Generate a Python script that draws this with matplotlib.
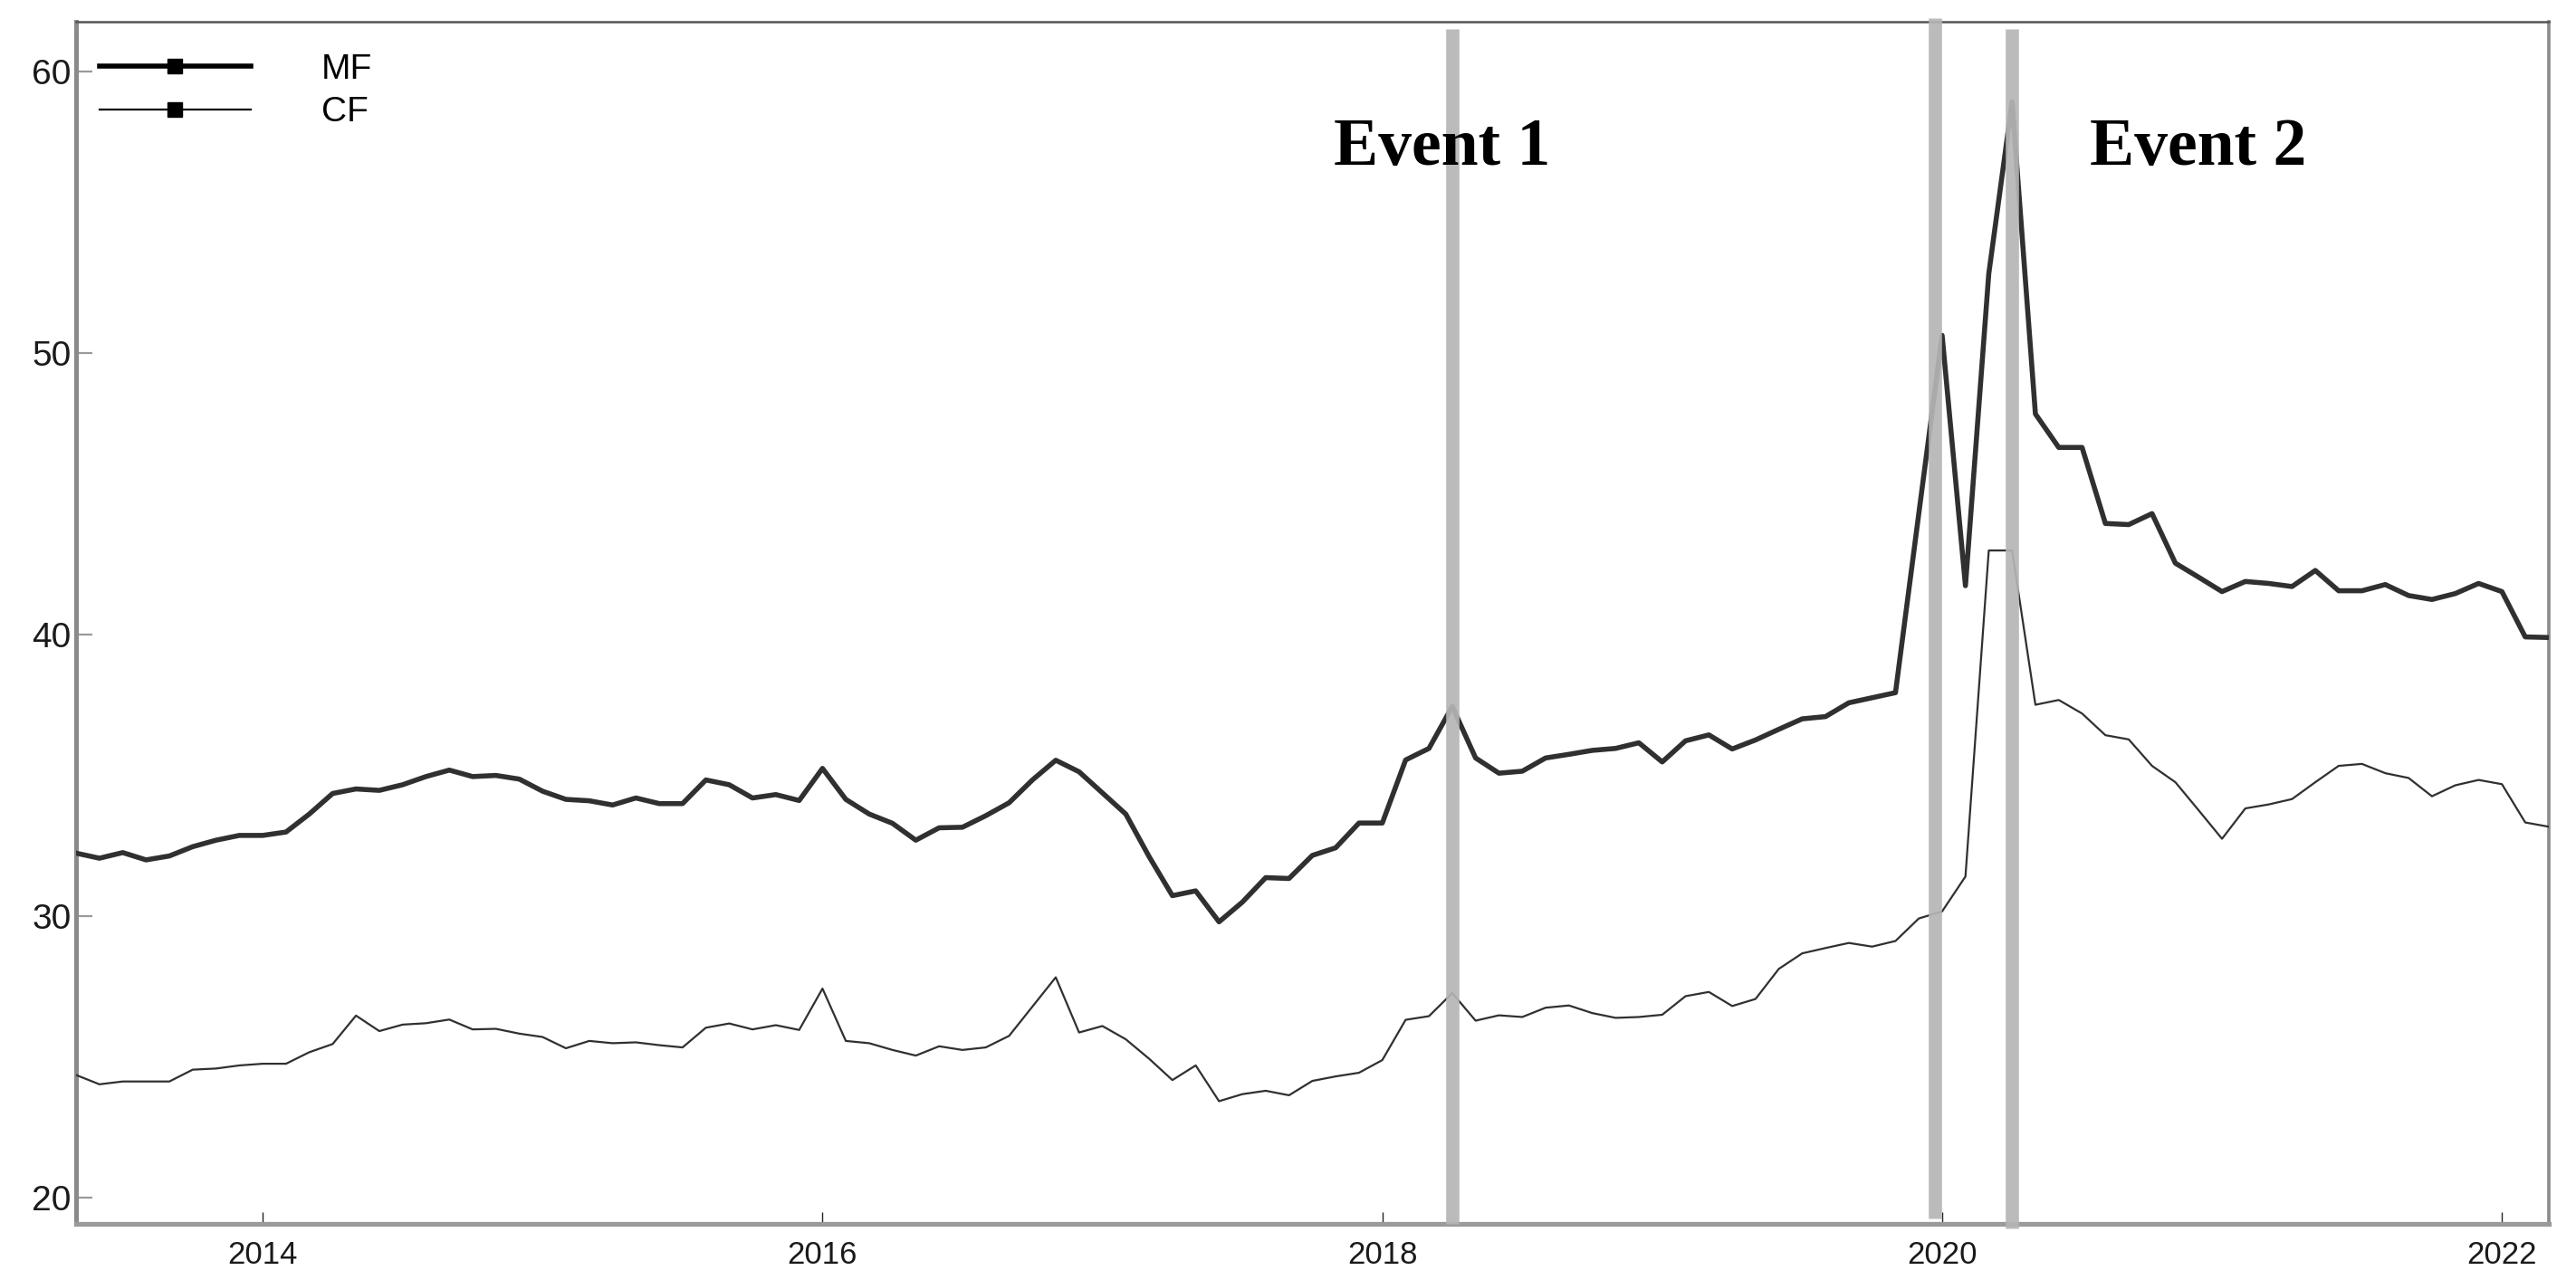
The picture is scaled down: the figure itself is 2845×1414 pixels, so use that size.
import numpy as np
import matplotlib.pyplot as plt
from matplotlib.lines import Line2D

# monthly series, May 2013 .. Mar 2022
start_year = 2013
start_month = 5
mf = [32.24, 32.06, 32.26, 32.00, 32.14, 32.47, 32.70, 32.87, 32.87, 32.99,
      33.63, 34.36, 34.52, 34.47, 34.67, 34.96, 35.19, 34.96, 35.00, 34.87,
      34.44, 34.15, 34.10, 33.95, 34.20, 34.00, 34.00, 34.84, 34.67, 34.20,
      34.32, 34.11, 35.25, 34.15, 33.63, 33.30, 32.70, 33.14, 33.16, 33.57,
      34.03, 34.84, 35.54, 35.13, 34.38, 33.63, 32.12, 30.73, 30.90, 29.80,
      30.50, 31.37, 31.34, 32.16, 32.43, 33.31, 33.31, 35.55, 35.96, 37.45,
      35.62, 35.08, 35.15, 35.62, 35.75, 35.89, 35.96, 36.16, 35.48, 36.23,
      36.44, 35.94, 36.26, 36.64, 37.01, 37.09, 37.58, 37.76, 37.94, 44.30,
      50.63, 41.74, 52.82, 58.92, 47.84, 46.65, 46.65, 43.95, 43.91, 44.30,
      42.54, 42.04, 41.53, 41.89, 41.82, 41.71, 42.28, 41.56, 41.56, 41.78,
      41.39, 41.25, 41.46, 41.82, 41.53, 39.92, 39.90]
cf = [24.36, 24.03, 24.13, 24.13, 24.13, 24.55, 24.59, 24.70, 24.76, 24.76,
      25.17, 25.46, 26.47, 25.92, 26.15, 26.20, 26.33, 25.98, 26.00, 25.83,
      25.71, 25.31, 25.57, 25.49, 25.52, 25.42, 25.34, 26.04, 26.19, 25.98,
      26.13, 25.96, 27.43, 25.57, 25.49, 25.25, 25.05, 25.38, 25.25, 25.34,
      25.75, 26.79, 27.83, 25.87, 26.10, 25.63, 24.94, 24.18, 24.70, 23.43,
      23.68, 23.80, 23.64, 24.15, 24.31, 24.44, 24.89, 26.32, 26.45, 27.27,
      26.29, 26.48, 26.42, 26.75, 26.83, 26.56, 26.39, 26.42, 26.50, 27.16,
      27.31, 26.81, 27.06, 28.13, 28.68, 28.87, 29.05, 28.92, 29.12, 29.92,
      30.17, 31.41, 42.99, 42.99, 37.51, 37.68, 37.20, 36.43, 36.28, 35.34,
      34.76, 33.76, 32.75, 33.83, 33.97, 34.16, 34.76, 35.34, 35.41, 35.08,
      34.91, 34.26, 34.65, 34.84, 34.69, 33.33, 33.18]
event_dates = [2018.25, 2019.975, 2020.25]
event_labels = ['Event 1', 'Event 2']
event_label_x = [2017.825, 2020.527]
year_ticks = [2014, 2016, 2018, 2020, 2022]
y_ticks = [20, 30, 40, 50, 60]

t = start_year + (start_month - 1 + np.arange(len(mf))) / 12.0

fig = plt.figure(figsize=(28.45, 14.14), dpi=100)
ax = fig.add_axes([0.0295, 0.0438, 0.96, 0.9392])

ax.plot(t, mf, color='#303030', lw=4.0, zorder=3)
ax.plot(t, cf, color='#303030', lw=1.6, zorder=3)

tops = [61.5, 61.9, 61.5]
bottoms = [19.07, 19.25, 18.9]
for x, lo, hi in zip(event_dates, bottoms, tops):
    ax.plot([x, x], [lo, hi], color='#b5b5b5', lw=10.5, alpha=0.92,
            solid_capstyle='butt', zorder=4, clip_on=False)

for x, s in zip(event_label_x, event_labels):
    ax.text(x, 56.7, s, fontsize=53, fontweight='bold', family='Liberation Serif',
            va='baseline', ha='left', zorder=5)

ax.set_xlim(2013.333, 2022.168)
ax.set_ylim(19.07, 61.77)
ax.set_xticks(year_ticks)
ax.set_xticklabels([str(y) for y in year_ticks])
ax.set_yticks(y_ticks)

ax.tick_params(axis='x', direction='in', length=9.5, width=1.0, color='#222222',
               labelsize=25, pad=13)
ax.tick_params(axis='y', direction='in', length=13, width=1.6, color='#9a9a9a',
               labelsize=28, pad=4)
for lab in ax.get_xticklabels() + ax.get_yticklabels():
    lab.set_family('Liberation Sans')
    lab.set_color('#1a1a1a')

ax.spines['left'].set_color('#8a8a8a')
ax.spines['left'].set_linewidth(3.6)
ax.spines['bottom'].set_color('#9a9a9a')
ax.spines['bottom'].set_linewidth(3.8)
ax.spines['top'].set_color('#555555')
ax.spines['top'].set_linewidth(1.8)
ax.spines['right'].set_color('#8a8a8a')
ax.spines['right'].set_linewidth(2.6)

handles = [Line2D([], [], color='black', lw=4.0, marker='s', markersize=12),
           Line2D([], [], color='black', lw=1.6, marker='s', markersize=12)]
leg = ax.legend(handles, ['MF', 'CF'], loc='upper left', bbox_to_anchor=(0.0095, 0.974),
                frameon=False, numpoints=1, handlelength=4.3, handletextpad=2.0,
                labelspacing=0.3, borderpad=0, borderaxespad=0,
                prop={'family': 'Liberation Sans', 'size': 28})

fig.savefig('out.png', dpi=100, facecolor='white')
